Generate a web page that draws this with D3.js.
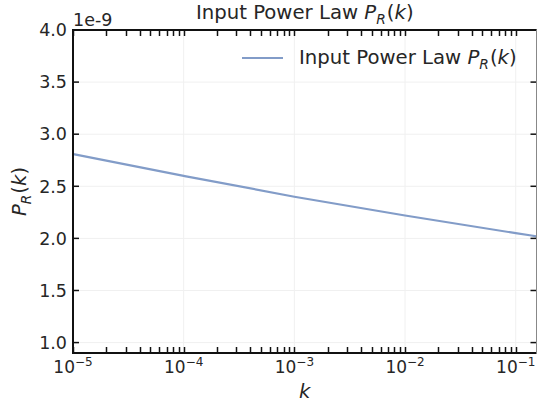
<!DOCTYPE html>
<html><head><meta charset="utf-8">
<script src="https://cdn.jsdelivr.net/npm/d3@7"></script>
<style>
body{margin:0;background:#fff;}
text{font-family:"DejaVu Sans",sans-serif;fill:#262626;}
</style></head>
<body><svg id="c" width="537" height="405"></svg>
<script>
// data, values in units of 1e-9
const kValues = [1e-5, 1e-4, 1e-3, 1e-2, 1e-1, 0.154];
const prValues = [2.81, 2.60, 2.40, 2.22, 2.05, 2.02];
const xTickExps = [-5, -4, -3, -2, -1];
const yTickValues = [1.0, 1.5, 2.0, 2.5, 3.0, 3.5, 4.0];
const seriesName = "Input Power Law ";

const svg = d3.select("#c");
const L = 73, R = 536.5, T = 30, B = 353;
const x = d3.scaleLog().domain([1e-5, 0.154]).range([L, R]);
const y = d3.scaleLinear().domain([0.9, 4.0]).range([B, T]);
const lineColor = "#829cc8";
const fs = 17.5;
const fsBig = 19.7;

// grid
const g = svg.append("g");
xTickExps.forEach(e => {
  g.append("line").attr("x1", x(Math.pow(10, e))).attr("x2", x(Math.pow(10, e)))
   .attr("y1", T).attr("y2", B).attr("stroke", "#f0f0f0").attr("stroke-width", 1);
});
yTickValues.forEach(v => {
  g.append("line").attr("x1", L).attr("x2", R).attr("y1", y(v)).attr("y2", y(v))
   .attr("stroke", "#f0f0f0").attr("stroke-width", 1);
});

// line
const line = d3.line().x((d, i) => x(kValues[i])).y(d => y(d)).curve(d3.curveMonotoneX);
svg.append("path").datum(prValues).attr("d", line).attr("fill", "none")
  .attr("stroke", lineColor).attr("stroke-width", 2.2);

// ticks: all minor & major on log axis
const allTicks = x.ticks(50).filter(t => t >= 1e-5 && t <= 0.154);
const tk = svg.append("g").attr("stroke", "#111").attr("stroke-width", 1.5);
allTicks.forEach(t => {
  const px = Math.round(x(t)) + 0.5;
  tk.append("line").attr("x1", px).attr("x2", px).attr("y1", B).attr("y2", B - 6);
  tk.append("line").attr("x1", px).attr("x2", px).attr("y1", T).attr("y2", T + 6);
});
yTickValues.forEach(v => {
  tk.append("line").attr("x1", L).attr("x2", L + 6).attr("y1", y(v)).attr("y2", y(v));
  tk.append("line").attr("x1", R).attr("x2", R - 6).attr("y1", y(v)).attr("y2", y(v));
});

// spines
svg.append("line").attr("x1", L).attr("x2", L).attr("y1", T - 1).attr("y2", B + 1).attr("stroke", "#111").attr("stroke-width", 2);
svg.append("line").attr("x1", L - 1).attr("x2", R).attr("y1", B).attr("y2", B).attr("stroke", "#111").attr("stroke-width", 2);
svg.append("line").attr("x1", L - 1).attr("x2", R).attr("y1", T).attr("y2", T).attr("stroke", "#111").attr("stroke-width", 2);
svg.append("line").attr("x1", R).attr("x2", R).attr("y1", T).attr("y2", B).attr("stroke", "#888").attr("stroke-width", 1);

// y tick labels
yTickValues.forEach(v => {
  svg.append("text").attr("x", L - 6).attr("y", y(v)).attr("dy", "0.36em")
    .attr("text-anchor", "end").attr("font-size", fs).text(v.toFixed(1));
});
// x tick labels
xTickExps.forEach(e => {
  const t = svg.append("text").attr("x", x(Math.pow(10, e))).attr("y", 373)
    .attr("text-anchor", "middle").attr("font-size", 17);
  t.append("tspan").text("10");
  t.append("tspan").attr("dy", -7).attr("font-size", 12).text("\u2212" + Math.abs(e));
});

// offset text
svg.append("text").attr("x", L).attr("y", 26).attr("font-size", fs).text("1e-9");

function mathLabel(sel, prefix, f) {
  if (prefix) sel.append("tspan").text(prefix);
  sel.append("tspan").attr("font-style", "italic").text("P");
  sel.append("tspan").attr("font-style", "italic").attr("font-size", f * 0.7).attr("dy", 4.5).text("R");
  sel.append("tspan").attr("dy", -4.5).attr("dx", 1).text("(");
  sel.append("tspan").attr("font-style", "italic").text("k");
  sel.append("tspan").text(")");
}

// title
const title = svg.append("text").attr("x", (L + R) / 2).attr("y", 19)
  .attr("text-anchor", "middle").attr("font-size", fsBig);
mathLabel(title, seriesName, fsBig);

// legend
svg.append("line").attr("x1", 242).attr("x2", 283).attr("y1", 58).attr("y2", 58)
  .attr("stroke", lineColor).attr("stroke-width", 2.2);
const leg = svg.append("text").attr("x", 299).attr("y", 64).attr("font-size", fsBig);
mathLabel(leg, seriesName, fsBig);

// axis labels
svg.append("text").attr("x", (L + R) / 2).attr("y", 398).attr("text-anchor", "middle")
  .attr("font-size", fsBig).attr("font-style", "italic").text("k");
const yl = svg.append("text").attr("transform", "translate(26," + ((T + B) / 2) + ") rotate(-90)")
  .attr("text-anchor", "middle").attr("font-size", fsBig);
mathLabel(yl, "", fsBig);
</script></body></html>
